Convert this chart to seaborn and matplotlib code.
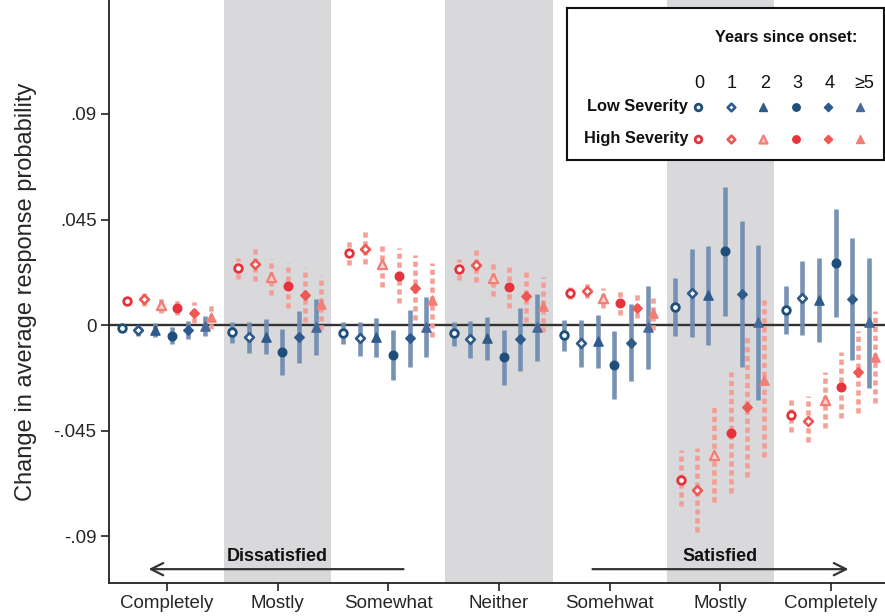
import numpy as np
import pandas as pd
import matplotlib
matplotlib.use("Agg")
import matplotlib.pyplot as plt
import seaborn as sns

# ---------------- data ----------------
categories = ["Completely", "Mostly", "Somewhat", "Neither", "Somehwat", "Mostly", "Completely"]
years = ["0", "1", "2", "3", "4", "\u22655"]

low_est = [
    [-0.0014, -0.0021, -0.0021, -0.0046, -0.0021, -0.0004],
    [-0.0030, -0.0053, -0.0050, -0.0114, -0.0053, -0.0007],
    [-0.0033, -0.0057, -0.0053, -0.0128, -0.0057, -0.0007],
    [-0.0036, -0.0061, -0.0057, -0.0138, -0.0060, -0.0007],
    [-0.0044, -0.0075, -0.0068, -0.0172, -0.0075, -0.0010],
    [0.0075, 0.0138, 0.0128, 0.0314, 0.0134, 0.0011],
    [0.0063, 0.0114, 0.0107, 0.0264, 0.0112, 0.0011],
]
low_lo = [
    [-0.0030, -0.0046, -0.0050, -0.0080, -0.0060, -0.0047],
    [-0.0075, -0.0120, -0.0124, -0.0213, -0.0160, -0.0128],
    [-0.0080, -0.0132, -0.0135, -0.0235, -0.0178, -0.0138],
    [-0.0090, -0.0142, -0.0150, -0.0256, -0.0195, -0.0152],
    [-0.0110, -0.0178, -0.0185, -0.0316, -0.0239, -0.0186],
    [-0.0047, -0.0053, -0.0087, 0.0040, -0.0178, -0.0320],
    [-0.0040, -0.0043, -0.0074, 0.0034, -0.0149, -0.0270],
]
low_hi = [
    [0.0002, 0.0000, 0.0007, -0.0010, 0.0018, 0.0038],
    [0.0014, 0.0014, 0.0026, -0.0018, 0.0060, 0.0110],
    [0.0014, 0.0014, 0.0028, -0.0021, 0.0064, 0.0120],
    [0.0014, 0.0017, 0.0033, -0.0021, 0.0071, 0.0132],
    [0.0021, 0.0021, 0.0043, -0.0026, 0.0090, 0.0166],
    [0.0199, 0.0325, 0.0338, 0.0589, 0.0444, 0.0341],
    [0.0166, 0.0273, 0.0284, 0.0495, 0.0372, 0.0287],
]
high_est = [
    [0.0102, 0.0111, 0.0085, 0.0071, 0.0053, 0.0036],
    [0.0242, 0.0259, 0.0206, 0.0168, 0.0128, 0.0090],
    [0.0306, 0.0324, 0.0259, 0.0210, 0.0159, 0.0107],
    [0.0238, 0.0256, 0.0199, 0.0163, 0.0124, 0.0081],
    [0.0135, 0.0145, 0.0114, 0.0092, 0.0071, 0.0050],
    [-0.0661, -0.0704, -0.0554, -0.0459, -0.0348, -0.0235],
    [-0.0384, -0.0408, -0.0320, -0.0266, -0.0202, -0.0135],
]
high_lo = [
    [0.0085, 0.0080, 0.0050, 0.0043, 0.0007, -0.0017],
    [0.0195, 0.0188, 0.0128, 0.0071, 0.0014, -0.0020],
    [0.0256, 0.0260, 0.0163, 0.0095, 0.0021, -0.0050],
    [0.0192, 0.0185, 0.0124, 0.0071, 0.0014, -0.0028],
    [0.0110, 0.0117, 0.0071, 0.0043, 0.0028, -0.0021],
    [-0.0772, -0.0882, -0.0754, -0.0718, -0.0650, -0.0562],
    [-0.0455, -0.0498, -0.0441, -0.0398, -0.0377, -0.0334],
]
high_hi = [
    [0.0120, 0.0138, 0.0120, 0.0114, 0.0099, 0.0090],
    [0.0286, 0.0333, 0.0280, 0.0263, 0.0242, 0.0209],
    [0.0362, 0.0408, 0.0351, 0.0327, 0.0299, 0.0263],
    [0.0280, 0.0320, 0.0277, 0.0260, 0.0235, 0.0206],
    [0.0163, 0.0180, 0.0156, 0.0146, 0.0132, 0.0114],
    [-0.0533, -0.0523, -0.0345, -0.0199, -0.0043, 0.0107],
    [-0.0310, -0.0303, -0.0199, -0.0116, -0.0026, 0.0060],
]

# ---------------- styles ----------------
year_offsets = [-0.41 + 0.1506 * k for k in range(6)]
sev_shift = {"Low Severity": 0.0, "High Severity": 0.051}

BLUE = "#1f4e7a"
BLUE2 = "#2f5b8c"
BLUE3 = "#46699a"
BLUE_CI = "#6f8db2"
RED = "#e6323a"
RED2 = "#ee5752"
SALMON = "#f27f77"
RED_CI = "#f59a90"
GRAY = "#d9d9db"

# marker style per (severity, year): (marker, size, face, edge, lw)
marker_styles = {
    "Low Severity": [
        ("o", 30, "white", BLUE, 2.0),
        ("D", 20, "white", BLUE2, 1.9),
        ("^", 44, BLUE2, BLUE2, 1.0),
        ("o", 38, BLUE, BLUE, 1.0),
        ("D", 24, BLUE2, BLUE2, 1.0),
        ("^", 44, BLUE3, BLUE3, 1.0),
    ],
    "High Severity": [
        ("o", 30, "white", RED, 2.0),
        ("D", 20, "white", RED2, 1.9),
        ("^", 44, "#fbd0cb", SALMON, 1.6),
        ("o", 38, RED, RED, 1.0),
        ("D", 24, RED2, RED2, 1.0),
        ("^", 44, SALMON, SALMON, 1.0),
    ],
}

rows = []
for sev, (E, L, H) in {"Low Severity": (low_est, low_lo, low_hi),
                       "High Severity": (high_est, high_lo, high_hi)}.items():
    for i, cat in enumerate(categories):
        for k, yr in enumerate(years):
            rows.append(dict(severity=sev, cat_idx=i, year=k,
                             x=i + year_offsets[k] + sev_shift[sev],
                             est=E[i][k], lo=L[i][k], hi=H[i][k]))
df = pd.DataFrame(rows)

# ---------------- figure ----------------
sns.set_theme(style="white")
plt.rcParams["font.family"] = ["Liberation Sans", "DejaVu Sans"]

W, Hh = 885, 616
fig = plt.figure(figsize=(W / 100, Hh / 100), dpi=100)
ax = fig.add_axes([109 / W, 33 / Hh, 776 / W, 583 / Hh])

ax.set_xlim(-0.524, 6.488)
ax.set_ylim(-0.1100, 0.1386)

for i in (1, 3, 5):
    ax.axvspan(i - 0.485, i + 0.485, color=GRAY, lw=0, zorder=0)

ax.axhline(0, color="#333333", lw=1.7, zorder=1)

# confidence intervals
low = df[df.severity == "Low Severity"]
high = df[df.severity == "High Severity"]
ax.vlines(high.x, high.lo, high.hi, colors=RED_CI, lw=3.3,
          linestyles=[(0, (1.15, 0.8))], zorder=2, alpha=0.95)
ax.vlines(low.x, low.lo, low.hi, colors=BLUE_CI, lw=3.3, zorder=3, alpha=0.95)

# point estimates
for sev in ["Low Severity", "High Severity"]:
    for k in range(6):
        sub = df[(df.severity == sev) & (df.year == k)]
        m, s, fc, ec, lw = marker_styles[sev][k]
        sns.scatterplot(data=sub, x="x", y="est", marker=m, s=s, color=fc,
                        edgecolor=ec, linewidth=lw, ax=ax, zorder=5, legend=False)

# axes styling
for sp in ["top", "right"]:
    ax.spines[sp].set_visible(False)
for sp in ["left", "bottom"]:
    ax.spines[sp].set_color("#222222")
    ax.spines[sp].set_linewidth(1.3)

ax.set_yticks([-0.09, -0.045, 0, 0.045, 0.09])
ax.set_yticklabels(["-.09", "-.045", "0", ".045", ".09"], fontsize=13.5)
ax.set_xticks(range(len(categories)))
ax.set_xticklabels(categories, fontsize=13.5)
ax.tick_params(axis="both", direction="out", length=6, width=1.2, color="#222222",
               left=True, bottom=True, pad=3)
ax.set_xlabel("")
ax.set_ylabel("Change in average response probability", fontsize=17, labelpad=12)
ax.grid(False)

# bottom arrows
ax.annotate("", xy=(-0.167, -0.1041), xytext=(2.137, -0.1041),
            arrowprops=dict(arrowstyle="->", lw=1.6, color="#333333",
                            mutation_scale=22, shrinkA=0, shrinkB=0))
ax.annotate("", xy=(6.158, -0.1041), xytext=(3.845, -0.1041),
            arrowprops=dict(arrowstyle="->", lw=1.6, color="#333333",
                            mutation_scale=22, shrinkA=0, shrinkB=0))
ax.text(1.0, -0.0985, "Dissatisfied", ha="center", va="center",
        fontsize=13, fontweight="bold", color="#111111")
ax.text(5.0, -0.0985, "Satisfied", ha="center", va="center",
        fontsize=13, fontweight="bold", color="#111111")

# ---------------- manual legend ----------------
lx0, lx1, ly0, ly1 = 567, 884, 8, 160
lax = fig.add_axes([lx0 / W, 1 - ly1 / Hh, (lx1 - lx0) / W, (ly1 - ly0) / Hh])
lax.set_xlim(lx0, lx1)
lax.set_ylim(ly1, ly0)
lax.set_xticks([])
lax.set_yticks([])
lax.set_facecolor("white")
for sp in lax.spines.values():
    sp.set_visible(True)
    sp.set_color("#111111")
    sp.set_linewidth(1.5)
lax.text(786, 37, "Years since onset:", ha="center", va="center",
         fontsize=11.7, fontweight="bold", color="#111111")
num_x = [699, 732, 765, 797, 830, 864]
mk_x = [698, 731, 763, 796, 828, 860]
for xx, yr in zip(num_x, years):
    lax.text(xx, 83, yr, ha="center", va="center", fontsize=13, color="#111111")
for sev, yy in [("Low Severity", 107), ("High Severity", 139)]:
    lax.text(688, yy - 1, sev, ha="right", va="center", fontsize=11.8,
             fontweight="bold", color="#111111")
    for k, xx in enumerate(mk_x):
        m, s, fc, ec, lw = marker_styles[sev][k]
        lax.scatter([xx], [yy], marker=m, s=s * 0.75, c=fc, edgecolors=ec, linewidths=lw)

fig.savefig("out.png", dpi=100)
